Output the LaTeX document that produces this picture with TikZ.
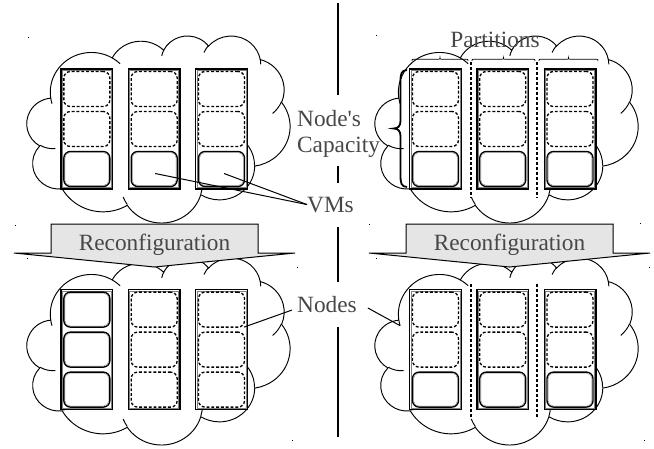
\documentclass[tikz,border=0pt]{standalone}
\usepackage{fontspec}
\setmainfont{Liberation Serif}
\newcommand\cqdef[5]{%
  \pgfmathsetmacro\cqtmpa{atan2((#2)*sin(#4),(#3)*cos(#4))}%
  \pgfmathsetmacro\cqtmpb{atan2((#2)*sin((#4)+(#5)),(#3)*cos((#4)+(#5)))}%
  \pgfmathsetmacro\cqtmpc{mod((\cqtmpb)-(\cqtmpa)+720,360)}%
  \expandafter\xdef\csname cqs#1\endcsname{\cqtmpa}%
  \expandafter\xdef\csname cqd#1\endcsname{\cqtmpc}%
}
\newcommand\cloudat[2]{%
\begin{scope}[shift={(#1,#2)},x=1cm,y=1cm,xscale=0.21404,yscale=-0.15208]
\draw[cloudline,fill=white] (3.900,14.370)
  arc[start angle=\cqsA,delta angle=\cqdA,x radius=6.753,y radius=9.190]
  arc[start angle=\cqsB,delta angle=\cqdB,x radius=5.333,y radius=7.267]
  arc[start angle=\cqsC,delta angle=\cqdC,x radius=4.365,y radius=5.945]
  arc[start angle=\cqsD,delta angle=\cqdD,x radius=4.857,y radius=6.595]
  arc[start angle=\cqsE,delta angle=\cqdE,x radius=5.333,y radius=7.273]
  arc[start angle=\cqsF,delta angle=\cqdF,x radius=6.775,y radius=9.220]
  arc[start angle=\cqsG,delta angle=\cqdG,x radius=5.785,y radius=7.867]
  arc[start angle=\cqsH,delta angle=\cqdH,x radius=6.752,y radius=9.215]
  arc[start angle=\cqsI,delta angle=\cqdI,x radius=7.720,y radius=10.543]
  arc[start angle=\cqsJ,delta angle=\cqdJ,x radius=4.360,y radius=5.918]
  arc[start angle=\cqsK,delta angle=\cqdK,x radius=4.345,y radius=5.945]
  -- cycle;
\draw[cloudline]
  (4.693,26.177) arc[start angle=\cqsa,delta angle=\cqda,x radius=4.345,y radius=5.945]
  (6.928,34.899) arc[start angle=\cqsb,delta angle=\cqdb,x radius=4.360,y radius=5.918]
  (16.478,39.090) arc[start angle=\cqsc,delta angle=\cqdc,x radius=6.752,y radius=9.215]
  (28.827,34.751) arc[start angle=\cqsd,delta angle=\cqdd,x radius=6.752,y radius=9.215]
  (34.129,22.954) arc[start angle=\cqse,delta angle=\cqde,x radius=5.785,y radius=7.867]
  (41.798,15.354) arc[start angle=\cqsf,delta angle=\cqdf,x radius=5.333,y radius=7.273]
  (38.324,5.426) arc[start angle=\cqsg,delta angle=\cqdg,x radius=4.857,y radius=6.595]
  (29.078,3.952) arc[start angle=\cqsh,delta angle=\cqdh,x radius=4.857,y radius=6.595]
  (22.141,4.720) arc[start angle=\cqsi,delta angle=\cqdi,x radius=4.365,y radius=5.945]
  (14.000,5.192) arc[start angle=\cqsj,delta angle=\cqdj,x radius=6.753,y radius=9.190]
  (4.127,15.789) arc[start angle=\cqsk,delta angle=\cqdk,x radius=6.753,y radius=9.190];
\end{scope}}
\newcommand\hbrace[3]{%
  \pgfmathsetmacro\hbm{(#1+#2)/2}%
  \draw[hbr] (#1,#3) .. controls (#1,#3-1.75) .. (#1+2,#3-1.75) -- (\hbm-2,#3-1.75)
    .. controls (\hbm,#3-1.75) .. (\hbm,#3-3.5) .. controls (\hbm,#3-1.75) .. (\hbm+2,#3-1.75)
    -- (#2-2,#3-1.75) .. controls (#2,#3-1.75) .. (#2,#3);}
\begin{document}
\begin{tikzpicture}[x=1pt,y=-1pt,
  cloudline/.style={draw=black,line width=0.95pt},
  srv/.style={draw,line width=1.3pt,fill=white,minimum width=51.7pt,minimum height=120pt,inner sep=0pt},
  vm/.style={draw,line width=1.35pt,fill=white,rounded corners=6.5pt,minimum width=46pt,minimum height=35pt,inner sep=0pt},
  slot/.style={draw,line width=1.3pt,dash pattern=on 2.9pt off 1.9pt,rounded corners=6.5pt,minimum width=46pt,minimum height=35pt,inner sep=0pt},
  inl/.style={draw=black!50,line width=0.4pt},
  lab/.style={font=\fontsize{23.3}{26}\selectfont,text=black!72,inner sep=0pt},
  con/.style={line width=1pt},
  part/.style={line width=1.35pt,dash pattern=on 3pt off 2pt},
  arr/.style={draw,line width=1pt,fill=black!10},
  hbr/.style={line width=0.7pt},
  vbr/.style={line width=1.8pt},
  dotm/.style={fill=black},
]
\fill[white] (0,0) rectangle (654,448);
\useasboundingbox (0,0) rectangle (654,448);
\cqdef{A}{6.753}{9.190}{-190.48748}{123.78053}
\cqdef{B}{5.333}{7.267}{-144.10238}{89.94523}
\cqdef{C}{4.365}{5.945}{-145.80792}{99.72302}
\cqdef{D}{4.857}{6.595}{-130.98607}{117.24173}
\cqdef{E}{5.333}{7.273}{-78.70888}{109.02692}
\cqdef{F}{6.775}{9.220}{-46.26725}{130.269}
\cqdef{G}{5.785}{7.867}{0.62502}{114.03333}
\cqdef{H}{6.752}{9.215}{22.4516}{115.17255}
\cqdef{I}{7.720}{10.543}{66.24263}{75.71102}
\cqdef{J}{4.360}{5.918}{-274.94208}{146.73557}
\cqdef{K}{4.345}{5.945}{-246.8285}{152.51885}
\cqdef{a}{4.345}{5.945}{86.742}{26.4295}
\cqdef{b}{4.360}{5.918}{73.6105}{11.4475}
\cqdef{c}{6.752}{9.215}{137.6242}{14.0811}
\cqdef{d}{6.752}{9.215}{6.4533}{15.9984}
\cqdef{e}{5.785}{7.867}{-70.2924}{70.9174}
\cqdef{f}{5.333}{7.273}{30.3180}{27.7515}
\cqdef{g}{4.857}{6.595}{-13.7443}{14.8589}
\cqdef{h}{4.857}{6.595}{-149.1815}{18.1954}
\cqdef{i}{4.365}{5.945}{-163.4943}{17.6864}
\cqdef{j}{6.753}{9.190}{-66.7070}{12.3194}
\cqdef{k}{6.753}{9.190}{157.6544}{11.8582}
% clouds
\cloudat{26.9}{35.4}
\cloudat{26.9}{257.4}
\cloudat{375}{35.4}
\cloudat{375}{257.4}
% server nodes
\foreach \i in {1,2,3}{
  \pgfmathsetmacro\xl{86.85+(\i-1)*67.33}
  \pgfmathsetmacro\xr{435.5+(\i-1)*67.25}
  \node[srv] (tl\i) at (\xl,129) {};
  \node[srv] (bl\i) at (\xl,349.6) {};
  \node[srv] (tr\i) at (\xr,129) {};
  \node[srv] (br\i) at (\xr,349.6) {};
}
\foreach \n in {tl1,tl2,tl3,bl1,bl2,bl3,tr1,tr2,tr3,br1,br2,br3}
  \draw[inl] ([shift={(2,2)}]\n.north west) rectangle ([shift={(-2,-2)}]\n.south east);
% slots and VMs
\foreach \n in {tl1,tl2,tl3,tr1,tr2,tr3,br1,br2,br3}{
  \node[slot] (\n a) at ([shift={(0,-40)}]\n.center) {};
  \node[slot] (\n b) at (\n.center) {};
  \node[vm] (\n c) at ([shift={(0,40)}]\n.center) {};
}
\foreach \n in {bl2,bl3}{
  \node[slot] (\n a) at ([shift={(0,-40)}]\n.center) {};
  \node[slot] (\n b) at (\n.center) {};
  \node[slot] (\n c) at ([shift={(0,40)}]\n.center) {};
}
\node[vm] (bl1a) at ([shift={(0,-40)}]bl1.center) {};
\node[vm] (bl1b) at (bl1.center) {};
\node[vm] (bl1c) at ([shift={(0,40)}]bl1.center) {};
\foreach \n in {tl1c,tl2c,tl3c,tr1c,tr2c,tr3c,br1c,br2c,br3c,bl1a,bl1b,bl1c}
  \draw[inl,rounded corners=5pt] ([shift={(1.8,1.8)}]\n.north west) rectangle ([shift={(-1.8,-1.8)}]\n.south east);
% partitions
\draw[part] (471,62) -- (471,198) (537,62) -- (537,198);
\draw[part] (471,284) -- (471,418) (537,284) -- (537,418);
% braces
\hbrace{412}{468}{61}
\hbrace{472}{535}{61}
\hbrace{539}{598}{61}
\draw[vbr] (407,70) .. controls (401,70) and (400.5,75) .. (400.5,81) -- (400.5,121)
  .. controls (400.5,126) and (398,128.5) .. (393.5,128.5)
  .. controls (398,128.5) and (400.5,131) .. (400.5,136) -- (400.5,176)
  .. controls (400.5,182) and (401,187) .. (407,187);
% labels
\node[lab,anchor=base west] (cap1) at (297,126) {Node\textquotesingle s};
\node[lab,anchor=base west] (cap2) at (297,152) {Capacity};
\node[lab,anchor=base west] (vlab) at (307,212) {VMs};
\node[lab,anchor=base west] (nlab) at (297,312) {Nodes};
\node[lab,anchor=base] (plab) at (495,47) {Partitions};
% connectors
\draw[con] ([shift={(1,4.5)}]tl2c.center) -- (vlab.west);
\draw[con] ([shift={(2.5,4.5)}]tl3c.center) -- (vlab.west);
\draw[con] ([shift={(-5,6)}]nlab.west) -- ([shift={(-4,-22.5)}]bl3.east);
\draw[con] ([shift={(11,4)}]nlab.east) -- ([shift={(-9,-24)}]br1.west);
% reconfiguration arrows
\draw[arr] (51,224) -- (258,224) -- (258,253) -- (295,253) -- (154.5,267) -- (14,253) -- (51,253) -- cycle;
\node[lab,anchor=base] (rc1) at (154.5,250) {Reconfiguration};
\draw[arr] (406,224) -- (613,224) -- (613,253) -- (650,253) -- (509.5,267) -- (369,253) -- (406,253) -- cycle;
\node[lab,anchor=base] (rc2) at (509.5,250) {Reconfiguration};
% divider
\draw[line width=1.1pt] (338,3) -- (338,95) (338,166) -- (338,183) (338,227) -- (338,282) (338,327) -- (338,437);
% stray marks
\foreach \p in {(28,37),(376,35),(15,225),(297,267),(27,258),(292,440),(369,224),(640,223),(649,267),(376,258),(644,440)}
  \fill[dotm] \p rectangle ++(1.3,1.3);
\end{tikzpicture}
\end{document}
